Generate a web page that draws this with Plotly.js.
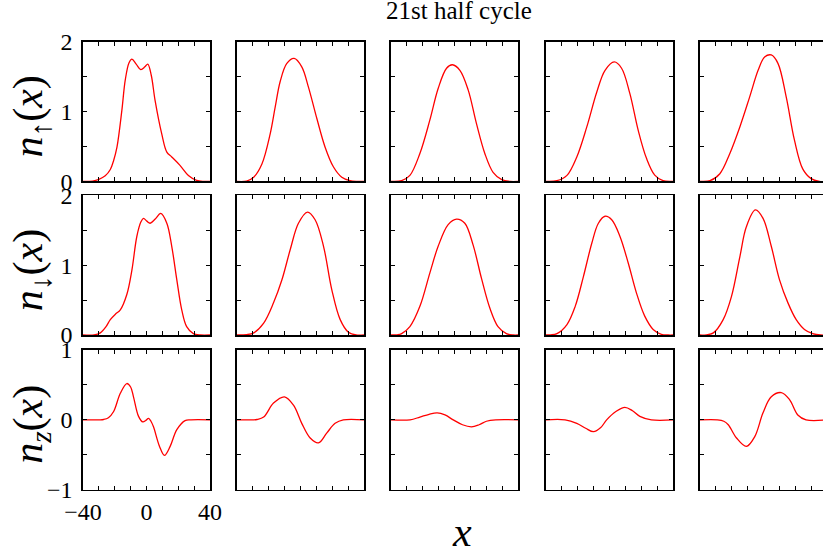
<!DOCTYPE html>
<html>
<head>
<meta charset="utf-8">
<script src="https://cdn.plot.ly/plotly-3.0.1.min.js"></script>
<style>html,body{margin:0;padding:0;background:#fff;}#chart{width:823px;height:554px;}</style>
</head>
<body>
<div id="chart"></div>
<script>
// ---- data (x positions and densities) ----
const titleText = "21st half cycle";
const rowLabels = ["<i>n</i><sub>↑</sub>(<i>x</i>)", "<i>n</i><sub>↓</sub>(<i>x</i>)", "<i>n<sub>z</sub></i>(<i>x</i>)"];
const xTickVals = [-40, -30, -20, -10, 0, 10, 20, 30, 40];
const xTickText = ["−40", "", "", "", "0", "", "", "", "40"];
const yTickValsN = [0, 0.5, 1, 1.5, 2];
const yTickTextN = ["0", "", "1", "", "2"];
const yTickValsZ = [-1, -0.5, 0, 0.5, 1];
const yTickTextZ = ["−1", "", "0", "", "1"];

// row 1: n_up
const up1X = [-40,-34,-30,-26,-22.8,-20.7,-18.6,-15.5,-13.4,-11,-9.2,-6.5,-3.6,-1,0.8,3,5.4,9.6,12.8,15.9,21.1,26.4,31.6,36,40];
const up1Y = [0,0.005,0.03,0.08,0.17,0.3,0.49,1.02,1.45,1.70,1.75,1.68,1.60,1.64,1.68,1.52,1.16,0.68,0.42,0.35,0.23,0.086,0.015,0,0];
const up2X = [-40,-34,-29.5,-24.3,-19.1,-15.9,-12.8,-8.6,-4.0,0.8,5.0,10.3,15.5,20.7,26,31.2,36,40];
const up2Y = [0,0.005,0.06,0.25,0.68,1.07,1.43,1.69,1.76,1.64,1.35,0.9,0.49,0.21,0.06,0.01,0,0];
const up3X = [-40,-33.3,-28.1,-21.8,-15.5,-10.3,-5.0,-1.3,3.4,8.6,13.8,19.1,24.3,29.5,35,40];
const up3Y = [0,0.01,0.086,0.40,0.88,1.33,1.62,1.67,1.59,1.31,0.83,0.40,0.13,0.03,0,0];
const up4X = [-40,-33.1,-26.8,-20.6,-14.3,-8.0,-2.8,3.0,7.6,12.8,18.1,23.3,28.5,33.7,40];
const up4Y = [0,0.01,0.086,0.35,0.78,1.28,1.59,1.71,1.62,1.26,0.73,0.33,0.09,0.01,0];
const up5X = [-40,-33.7,-27.5,-21.2,-14.9,-8.7,-3.4,0.7,4.9,9.1,14.3,19.5,24.7,30,35.2,40];
const up5Y = [0,0.01,0.11,0.40,0.78,1.21,1.59,1.78,1.81,1.69,1.21,0.59,0.18,0.04,0,0];

// row 2: n_down
const dn1X = [-40,-33,-29.1,-25.5,-22.8,-19.5,-16.5,-12.4,-9.2,-6.1,-3.5,-1.9,0.2,2.3,5.5,9.0,12.8,15.9,19.1,22.2,25.3,29.5,34,40];
const dn1Y = [0,0,0.03,0.12,0.22,0.30,0.36,0.58,0.93,1.41,1.62,1.67,1.63,1.60,1.66,1.74,1.60,1.27,0.79,0.36,0.12,0.02,0,0];
const dn2X = [-40,-34,-29.5,-23.2,-17.0,-11.7,-6.5,-1.3,4.4,9.2,14.5,19.7,25,30.2,35,40];
const dn2Y = [0,0.005,0.03,0.17,0.46,0.79,1.22,1.6,1.76,1.65,1.27,0.65,0.22,0.04,0,0];
const dn3X = [-40,-36,-33.3,-28.1,-21.8,-15.5,-10.3,-4.0,1.3,6.5,11.7,17,22.2,27.4,32.7,37,40];
const dn3Y = [0,0.003,0.02,0.12,0.41,0.89,1.27,1.58,1.66,1.6,1.29,0.81,0.39,0.12,0.02,0,0];
const dn4X = [-40,-37,-33.1,-26.8,-21.6,-16.4,-11.2,-7.0,-2.8,1.4,6.6,11.8,17,22.2,27.5,32.7,37,40];
const dn4Y = [0,0.002,0.02,0.15,0.41,0.84,1.31,1.6,1.7,1.65,1.41,1.03,0.6,0.27,0.08,0.01,0,0];
const dn5X = [-40,-36,-31.6,-25.4,-20.2,-14.9,-10.8,-5.1,-0.3,4.9,10.1,15.4,20.6,25.8,31,36,40];
const dn5Y = [0,0.003,0.03,0.22,0.55,1.12,1.55,1.79,1.67,1.27,0.79,0.46,0.22,0.08,0.02,0,0];

// row 3: n_z
const nz1X = [-40,-30,-27,-24,-20.7,-16.5,-12.4,-10,-8.2,-5,-2.3,-0.5,1.3,2.8,4.4,8.2,11.3,14.9,19.1,24.3,28,40];
const nz1Y = [0,0,0.005,0.03,0.12,0.38,0.52,0.47,0.33,0.05,-0.03,-0.01,0.02,-0.02,-0.10,-0.38,-0.51,-0.38,-0.14,-0.01,0,0];
const nz2X = [-40,-30,-27.4,-23.2,-17,-10.1,-4.4,0.8,6.1,11.3,16.5,21.8,27,40];
const nz2Y = [0,0,0.005,0.04,0.24,0.33,0.21,-0.05,-0.26,-0.33,-0.19,-0.05,0,0];
const nz3X = [-40,-28,-21.8,-16,-10.9,-6,-0.8,5,10.7,15.5,20.1,26,40];
const nz3Y = [0,0,0.04,0.08,0.10,0.07,0,-0.07,-0.10,-0.07,-0.02,0,0];
const nz4X = [-40,-28,-20.6,-15,-10.1,-5.5,-1.8,4,9.7,14.5,19.1,26.4,40];
const nz4Y = [0,0,-0.05,-0.12,-0.17,-0.11,0,0.12,0.18,0.13,0.05,0,0];
const nz5X = [-40,-29,-25,-22.2,-17,-10.8,-5.5,-0.3,4.9,11.2,16.4,21.6,26.8,40];
const nz5Y = [0,0,-0.02,-0.07,-0.26,-0.38,-0.24,0.1,0.33,0.39,0.29,0.07,0,0];

const panels = [
  [[up1X,up1Y],[up2X,up2Y],[up3X,up3Y],[up4X,up4Y],[up5X,up5Y]],
  [[dn1X,dn1Y],[dn2X,dn2Y],[dn3X,dn3Y],[dn4X,dn4Y],[dn5X,dn5Y]],
  [[nz1X,nz1Y],[nz2X,nz2Y],[nz3X,nz3Y],[nz4X,nz4Y],[nz5X,nz5Y]]
];

// ---- layout geometry (pixels) ----
const W = 823, H = 554;
const colLeft = [83, 237, 391, 546, 700];
const colW = 127;
const rowTop = [41.7, 195.3, 350];
const rowH = 139.7;
const FONT = "'Liberation Serif', 'Times New Roman', Times, serif";

const traces = [];
const layout = {
  width: W, height: H,
  margin: {l: 0, r: 0, t: 0, b: 0},
  paper_bgcolor: "#fff", plot_bgcolor: "#fff",
  showlegend: false,
  font: {family: FONT, size: 24, color: "#000"},
  annotations: []
};

for (let r = 0; r < 3; r++) {
  for (let c = 0; c < 5; c++) {
    const k = r * 5 + c + 1;
    const xa = "xaxis" + (k === 1 ? "" : k);
    const ya = "yaxis" + (k === 1 ? "" : k);
    const xr = "x" + (k === 1 ? "" : k);
    const yr = "y" + (k === 1 ? "" : k);
    const d = panels[r][c];
    traces.push({x: d[0], y: d[1], type: "scatter", mode: "lines",
      line: {color: "#ff0000", width: 1.3, shape: "spline", smoothing: 1},
      xaxis: xr, yaxis: yr, hoverinfo: "skip"});
    const x0 = colLeft[c];
    let x1 = x0 + colW;
    let xmax = 40;
    if (x1 > W) { xmax = -40 + 80 * (W - x0) / colW; x1 = W; }
    layout[xa] = {
      domain: [x0 / W, x1 / W], anchor: yr, range: [-40, xmax],
      tickmode: "array", tickvals: xTickVals, ticktext: xTickText,
      showticklabels: (r === 2 && c === 0),
      ticks: "inside", ticklen: 4, tickwidth: 1, tickcolor: "#000",
      showline: true, linecolor: "#000", linewidth: 1.6, mirror: "ticks",
      showgrid: false, zeroline: false, ticklabelstandoff: 0,
      tickfont: {family: FONT, size: 24, color: "#000"}
    };
    const yb = H - rowTop[r] - rowH, yt = H - rowTop[r];
    const isZ = r === 2;
    layout[ya] = {
      domain: [yb / H, yt / H], anchor: xr,
      range: isZ ? [-1, 1] : [0, 2],
      tickmode: "array", tickvals: isZ ? yTickValsZ : yTickValsN, ticktext: isZ ? yTickTextZ : yTickTextN,
      showticklabels: c === 0,
      ticks: "inside", ticklen: 4, tickwidth: 1, tickcolor: "#000",
      showline: true, linecolor: "#000", linewidth: 1.6, mirror: (c === 4 ? false : "ticks"),
      showgrid: false, zeroline: false, ticklabelstandoff: 4,
      tickfont: {family: FONT, size: 24, color: "#000"}
    };
  }
  layout.annotations.push({
    text: rowLabels[r], xref: "paper", yref: "paper",
    x: 31 / W, y: 1 - (rowTop[r] + rowH / 2 + 5) / H,
    xanchor: "center", yanchor: "middle", textangle: -90, showarrow: false,
    font: {family: FONT, size: 42, color: "#000"}
  });
}

layout.annotations.push({
  text: titleText, xref: "paper", yref: "paper", x: 459 / W, y: 1 - 10 / H,
  xanchor: "center", yanchor: "middle", showarrow: false,
  font: {family: FONT, size: 25, color: "#000"}
});
layout.annotations.push({
  text: "<i>x</i>", xref: "paper", yref: "paper", x: 462 / W, y: 1 - 532 / H,
  xanchor: "center", yanchor: "middle", showarrow: false,
  font: {family: FONT, size: 42, color: "#000"}
});

Plotly.newPlot("chart", traces, layout, {staticPlot: true, displayModeBar: false});
</script>
</body>
</html>
